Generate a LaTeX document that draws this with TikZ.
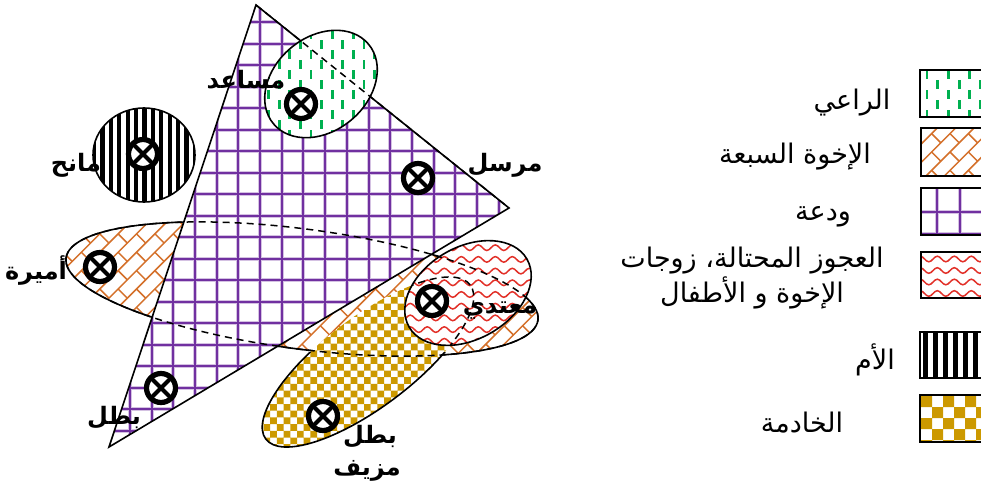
\documentclass[tikz,border=0pt]{standalone}
\usepackage{fontspec}
\newfontfamily\arfont[Script=Arabic]{DejaVu Sans}
\TeXXeTstate=1
\usetikzlibrary{decorations.pathmorphing}
\definecolor{grpurple}{RGB}{112,48,160}
\definecolor{brk}{RGB}{212,112,42}
\definecolor{grn}{RGB}{0,176,80}
\definecolor{wav}{RGB}{226,48,40}
\definecolor{gld}{RGB}{204,153,0}
\begin{document}
\begin{tikzpicture}[x=1pt,y=-1pt,
  outl/.style={draw=black, line width=1.6pt},
  dashol/.style={draw=black, line width=1.5pt, dash pattern=on 7pt off 5pt},
  brickln/.style={draw=brk, line width=1.5pt},
  gridhalo/.style={draw=grpurple!30, line width=4pt},
  gridln/.style={draw=grpurple, line width=2pt},
  gdash/.style={draw=grn, line width=2.8pt, dash pattern=on 9pt off 11pt},
  wave/.style={draw=wav, line width=1.5pt, decorate, decoration={snake, amplitude=2.8pt, segment length=17pt}},
  legbox/.style={draw=black, line width=2pt},
  mk/.style={circle, draw=black, line width=5.2pt, fill=white, minimum size=29pt, inner sep=0pt,
    path picture={\draw[line width=4.2pt] (path picture bounding box.north west) -- (path picture bounding box.south east)
      (path picture bounding box.north east) -- (path picture bounding box.south west);}},
  lab/.style={font={\arfont\bfseries\fontsize{24}{28}\selectfont}, inner sep=0pt},
  leg/.style={font={\arfont\fontsize{27}{35}\selectfont}, inner sep=0pt, align=center}
]
\useasboundingbox (0,0) rectangle (981,498);

% ---- brick ellipse (bottom layer)
\begin{scope}
\clip[rotate around={-7.5:(302,289)}] (302,289) ellipse [x radius=238pt, y radius=60pt];
\fill[white] (50,220) rectangle (560,360);
\begin{scope}[shift={(302,289)}, rotate=45]
\draw[brickln] \foreach \k in {-20,...,20} { (-250,\k*13) -- (250,\k*13) };
\draw[brickln] \foreach \k in {-20,...,19} { \foreach \j in {-10,...,9} { ({\j*26+mod(abs(\k),2)*13},\k*13) -- ++(0,13) } };
\end{scope}
\end{scope}
\draw[outl, rotate around={-7.5:(302,289)}] (302,289) ellipse [x radius=238pt, y radius=60pt];

% ---- triangle with purple grid
\begin{scope}
\clip (256,5) -- (509,208) -- (109,447) -- cycle;
\fill[white] (100,0) rectangle (520,450);
\draw[gridhalo] \foreach \i in {-7,...,12} { ({260+21.7*\i},0) -- ({260+21.7*\i},450) }
  \foreach \i in {-13,...,8} { (100,{280+21.5*\i}) -- (520,{280+21.5*\i}) };
\draw[gridln] \foreach \i in {-7,...,12} { ({260+21.7*\i},0) -- ({260+21.7*\i},450) }
  \foreach \i in {-13,...,8} { (100,{280+21.5*\i}) -- (520,{280+21.5*\i}) };
\end{scope}
\draw[outl, line join=miter] (256,5) -- (509,208) -- (109,447) -- cycle;

% ---- gold checker ellipse
\begin{scope}
\clip[rotate around={37:(368,362)}] (368,362) ellipse [x radius=128pt, y radius=45pt];
\fill[white] (230,270) rectangle (500,465);
\fill[gld] \foreach \i in {0,...,40} { \foreach \j in {0,...,14} { ({230+\i*6.7},{270+(2*\j+mod(\i,2))*6.7}) rectangle ++(6.7,6.7) } };
\end{scope}
\begin{scope}
\clip (0,0) -- (300,0) -- (300,352) -- (462,352) -- (462,0) -- (981,0) -- (981,498) -- (0,498) -- cycle;
\draw[outl, rotate around={37:(368,362)}] (368,362) ellipse [x radius=128pt, y radius=45pt];
\end{scope}

% ---- red wave ellipse
\begin{scope}
\clip[rotate around={30:(468,293)}] (468,293) ellipse [x radius=68pt, y radius=46pt];
\fill[white] (390,230) rectangle (545,355);
\foreach \k in {0,...,11} \draw[wave] (388,{236+\k*11.7}) -- (552,{236+\k*11.7});
\end{scope}
\draw[outl, rotate around={30:(468,293)}] (468,293) ellipse [x radius=68pt, y radius=46pt];

% ---- green dashes ellipse
\begin{scope}
\clip[rotate around={40:(321,84)}] (321,84) ellipse [x radius=62pt, y radius=47pt];
\fill[white] (250,20) rectangle (390,150);
\foreach \i in {0,...,13} \draw[gdash] ({258+\i*10.6},{20+mod(\i,2)*10}) -- ({258+\i*10.6},150);
\end{scope}
\draw[outl, rotate around={40:(321,84)}] (321,84) ellipse [x radius=62pt, y radius=47pt];

% ---- black striped circle
\begin{scope}
\clip (144,155) ellipse [x radius=51pt, y radius=47pt];
\fill[white] (90,105) rectangle (200,205);
\foreach \i in {0,...,13} \fill[black] ({92+\i*8.4},100) rectangle ++(4.2,110);
\end{scope}
\draw[outl] (144,155) ellipse [x radius=51pt, y radius=47pt];

% ---- dashed hidden outlines
\draw[dashol, rotate around={-7.5:(302,289)}] (302,289) ellipse [x radius=238pt, y radius=60pt];
\draw[dashol] (256,5) -- (509,208);
\begin{scope}
\clip[rotate around={30:(468,293)}] (468,293) ellipse [x radius=68pt, y radius=46pt];
\draw[dashol, rotate around={37:(368,362)}] (368,362) ellipse [x radius=128pt, y radius=45pt];
\end{scope}

% ---- markers
\node[mk] (mg) at (301,104) {};
\node[mk] (mb) at (143,154) {};
\node[mk] (mt) at (418,178) {};
\node[mk] (ma) at (100,267) {};
\node[mk] (mr) at (432,301) {};
\node[mk] (mh) at (161,388) {};
\node[mk] (mz) at (323,416) {};

% ---- labels
\node[lab] (l1) at (246,80) {\beginR مساعد\endR};
\node[lab] (l2) at (76,165) {\beginR مانح\endR};
\node[lab] (l3) at (505,165) {\beginR مرسل\endR};
\node[lab] (l4) at (36,271) {\beginR أميرة\endR};
\node[lab] (l5) at (114,418) {\beginR بطل\endR};
\node[lab] (l6) at (500,311) {\beginR معتدي\endR};
\node[lab] (l7) at (370,437) {\beginR بطل\endR};
\node[lab] (l8) at (367,471) {\beginR مزيف\endR};

% ---- legend boxes
% green
\begin{scope}
\clip (920,70) rectangle (995,117);
\fill[white] (920,70) rectangle (995,117);
\foreach \i in {0,...,6} \draw[gdash] ({927+\i*10.7},{70+mod(\i,2)*10}) -- ({927+\i*10.7},120);
\end{scope}
\draw[legbox] (995,70) -- (920,70) -- (920,117) -- (995,117);
% brick
\begin{scope}
\clip (921,128) rectangle (995,176);
\fill[white] (921,128) rectangle (995,176);
\begin{scope}[shift={(950,152)}, rotate=45]
\draw[brickln] \foreach \k in {-6,...,6} { (-70,\k*13) -- (70,\k*13) };
\draw[brickln] \foreach \k in {-6,...,5} { \foreach \j in {-4,...,3} { ({\j*26+mod(abs(\k),2)*13},\k*13) -- ++(0,13) } };
\end{scope}
\end{scope}
\draw[legbox] (995,128) -- (921,128) -- (921,176) -- (995,176);
% purple grid
\begin{scope}
\clip (921,188) rectangle (995,235);
\fill[white] (921,188) rectangle (995,235);
\draw[gridhalo] (937,188) -- (937,235) (960,188) -- (960,235) (921,212) -- (995,212) (921,234) -- (995,234);
\draw[gridln] (937,188) -- (937,235) (960,188) -- (960,235) (921,212) -- (995,212) (921,234) -- (995,234);
\end{scope}
\draw[legbox] (995,188) -- (921,188) -- (921,235) -- (995,235);
% red waves
\begin{scope}
\clip (921,252) rectangle (995,298);
\fill[white] (921,252) rectangle (995,298);
\foreach \k in {0,...,3} \draw[wave] (915,{259+\k*11.5}) -- (1000,{259+\k*11.5});
\end{scope}
\draw[legbox] (995,252) -- (921,252) -- (921,298) -- (995,298);
% black stripes
\begin{scope}
\clip (920,332) rectangle (995,378);
\fill[white] (920,332) rectangle (995,378);
\foreach \i in {0,...,7} \fill[black] ({923+\i*10},330) rectangle ++(5,50);
\end{scope}
\draw[legbox] (995,332) -- (920,332) -- (920,378) -- (995,378);
% gold checker
\begin{scope}
\clip (920,395) rectangle (995,442);
\fill[white] (920,395) rectangle (995,442);
\fill[gld] \foreach \i in {0,...,6} { \foreach \j in {0,...,2} { ({921+\i*11},{396+(2*\j+mod(\i,2))*11}) rectangle ++(11,11) } };
\end{scope}
\draw[legbox] (995,395) -- (920,395) -- (920,442) -- (995,442);

% ---- legend texts
\node[leg] (t1) at (852,103) {\beginR الراعي\endR};
\node[leg] (t2) at (795,157) {\beginR الإخوة السبعة\endR};
\node[leg] (t3) at (823,217) {\beginR ودعة\endR};
\node[leg] (t4) at (752,278) {\beginR العجوز المحتالة، زوجات\endR\\\beginR الإخوة و الأطفال\endR};
\node[leg] (t5) at (875,360) {\beginR الأم\endR};
\node[leg] (t6) at (802,423) {\beginR الخادمة\endR};
\end{tikzpicture}
\end{document}
